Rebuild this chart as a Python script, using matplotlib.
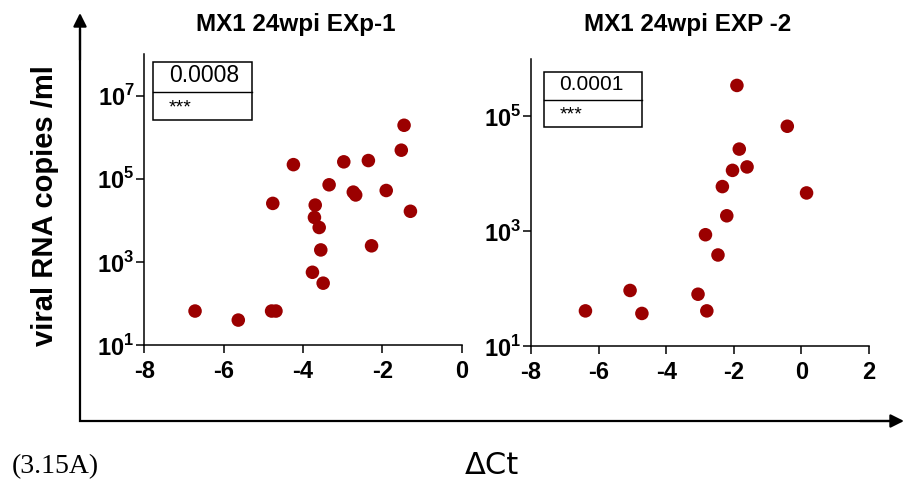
import math
import matplotlib.pyplot as plt
from matplotlib.patches import Rectangle

plt.rcParams['font.family'] = ['Liberation Sans', 'DejaVu Sans']
plt.rcParams['mathtext.fontset'] = 'custom'
plt.rcParams['mathtext.rm'] = 'Liberation Sans:bold'
plt.rcParams['mathtext.bf'] = 'Liberation Sans:bold'

# MX1 24wpi EXp-1 : delta Ct vs viral RNA copies/ml
dct_exp1 = [-6.72, -5.63, -4.79, -4.68, -4.76, -4.24, -3.76, -3.49, -3.55, -3.59, -3.71,
            -3.69, -3.34, -2.97, -2.73, -2.67, -2.35, -2.27, -1.90, -1.52, -1.45, -1.29]
copies_exp1 = [66, 40, 66, 66, 25700, 2.2e5, 565, 309, 1950, 6760, 11800,
               23400, 72000, 2.57e5, 48000, 41000, 2.76e5, 2450, 52500, 4.9e5, 1.95e6, 16600]

# MX1 24wpi EXP -2
dct_exp2 = [-6.39, -5.07, -4.72, -3.06, -2.80, -2.84, -2.47, -2.21, -2.34, -2.04,
            -1.84, -1.61, -1.91, -0.42, 0.15]
copies_exp2 = [41, 93, 37, 80, 41, 870, 386, 1860, 6000, 11500,
               27000, 13200, 3.47e5, 67500, 4650]

titles = ['MX1 24wpi EXp-1', 'MX1 24wpi EXP -2']
p_values = ['0.0008', '0.0001']
stars = ['***', '***']

xticks_1 = [-8, -6, -4, -2, 0]
xticks_2 = [-8, -6, -4, -2, 0, 2]
yticks_1 = [1e1, 1e3, 1e5, 1e7]
yticks_2 = [1e1, 1e3, 1e5]

dot_color = '#9b0000'

fig = plt.figure(figsize=(9.04, 4.84), dpi=100)

# big L-shaped arrows drawn in pixel coordinates on a background layer
bg = fig.add_axes([0, 0, 1, 1], zorder=-1)
bg.set_xlim(0, 904)
bg.set_ylim(484, 0)
bg.axis('off')
bg.plot([80, 80, 890], [30, 421, 421], color='black', lw=1.6, solid_joinstyle='miter')
arrow = dict(arrowstyle='-|>', lw=1.6, color='black', mutation_scale=20,
             shrinkA=0, shrinkB=0)
bg.annotate('', xy=(80, 13), xytext=(80, 60), arrowprops=arrow)
bg.annotate('', xy=(904, 421), xytext=(860, 421), arrowprops=arrow)

ax1 = fig.add_axes([0.1596, 0.287, 0.351, 0.601])
ax2 = fig.add_axes([0.5874, 0.285, 0.374, 0.593])


def style_panel(ax, x, y, xlim, xticks, ylim, yticks, box, ptxt, psize, stxt):
    ax.scatter(x, y, s=95, color=dot_color, edgecolor='none', zorder=3, clip_on=False)
    ax.set_yscale('log')
    ax.set_xlim(*xlim)
    ax.set_ylim(*ylim)
    ax.set_xticks(xticks)
    ax.set_xticklabels([str(t) for t in xticks], fontsize=17, fontweight='bold')
    ax.set_yticks(yticks)
    ax.set_yticklabels([r'$10^{%d}$' % round(math.log10(t)) for t in yticks],
                       fontsize=17)
    ax.minorticks_off()
    for s in ['top', 'right']:
        ax.spines[s].set_visible(False)
    for s in ['left', 'bottom']:
        ax.spines[s].set_linewidth(1.1)
    ax.tick_params(axis='x', length=6, width=1.1, pad=5)
    ax.tick_params(axis='y', length=6, width=1.1, pad=1)

    # p-value box
    x0, x1, yb, yt, ydiv, px, py, sx, sy = box
    ax.add_patch(Rectangle((x0, yb), x1 - x0, yt - yb, transform=ax.transAxes,
                           fill=False, lw=1.1, edgecolor='black', clip_on=False))
    ax.plot([x0, x1], [ydiv, ydiv], transform=ax.transAxes, color='black', lw=1.0)
    ax.text(px, py, ptxt, transform=ax.transAxes, ha='center', va='center', fontsize=psize)
    ax.text(sx, sy, stxt, transform=ax.transAxes, ha='left', va='center', fontsize=14)


style_panel(ax1, dct_exp1, copies_exp1, (-8, 0), xticks_1, (10, 1e8), yticks_1,
            (0.0265, 0.340, 0.773, 0.9735, 0.870, 0.188, 0.928, 0.078, 0.815),
            p_values[0], 16.5, stars[0])
style_panel(ax2, dct_exp2, copies_exp2, (-8, 2), xticks_2, (10, 1e6), yticks_2,
            (0.039, 0.3275, 0.764, 0.954, 0.857, 0.178, 0.913, 0.086, 0.805),
            p_values[1], 15, stars[1])

fig.text(296 / 904, 1 - 24 / 484, titles[0], ha='center', va='center',
         fontsize=17.5, fontweight='bold')
fig.text(688 / 904, 1 - 25 / 484, titles[1], ha='center', va='center',
         fontsize=17.5, fontweight='bold')

fig.text(45 / 904, 1 - 206 / 484, 'viral RNA copies /ml', rotation=90,
         ha='center', va='center', fontsize=21, fontweight='bold')
fig.text(492 / 904, 1 - 465 / 484, 'ΔCt', ha='center', va='center',
         fontsize=22, family='DejaVu Sans')
fig.text(55 / 904, 1 - 467 / 484, '(3.15A)', ha='center', va='center',
         fontsize=20, family='Liberation Serif')

fig.savefig('out.png', dpi=100)
